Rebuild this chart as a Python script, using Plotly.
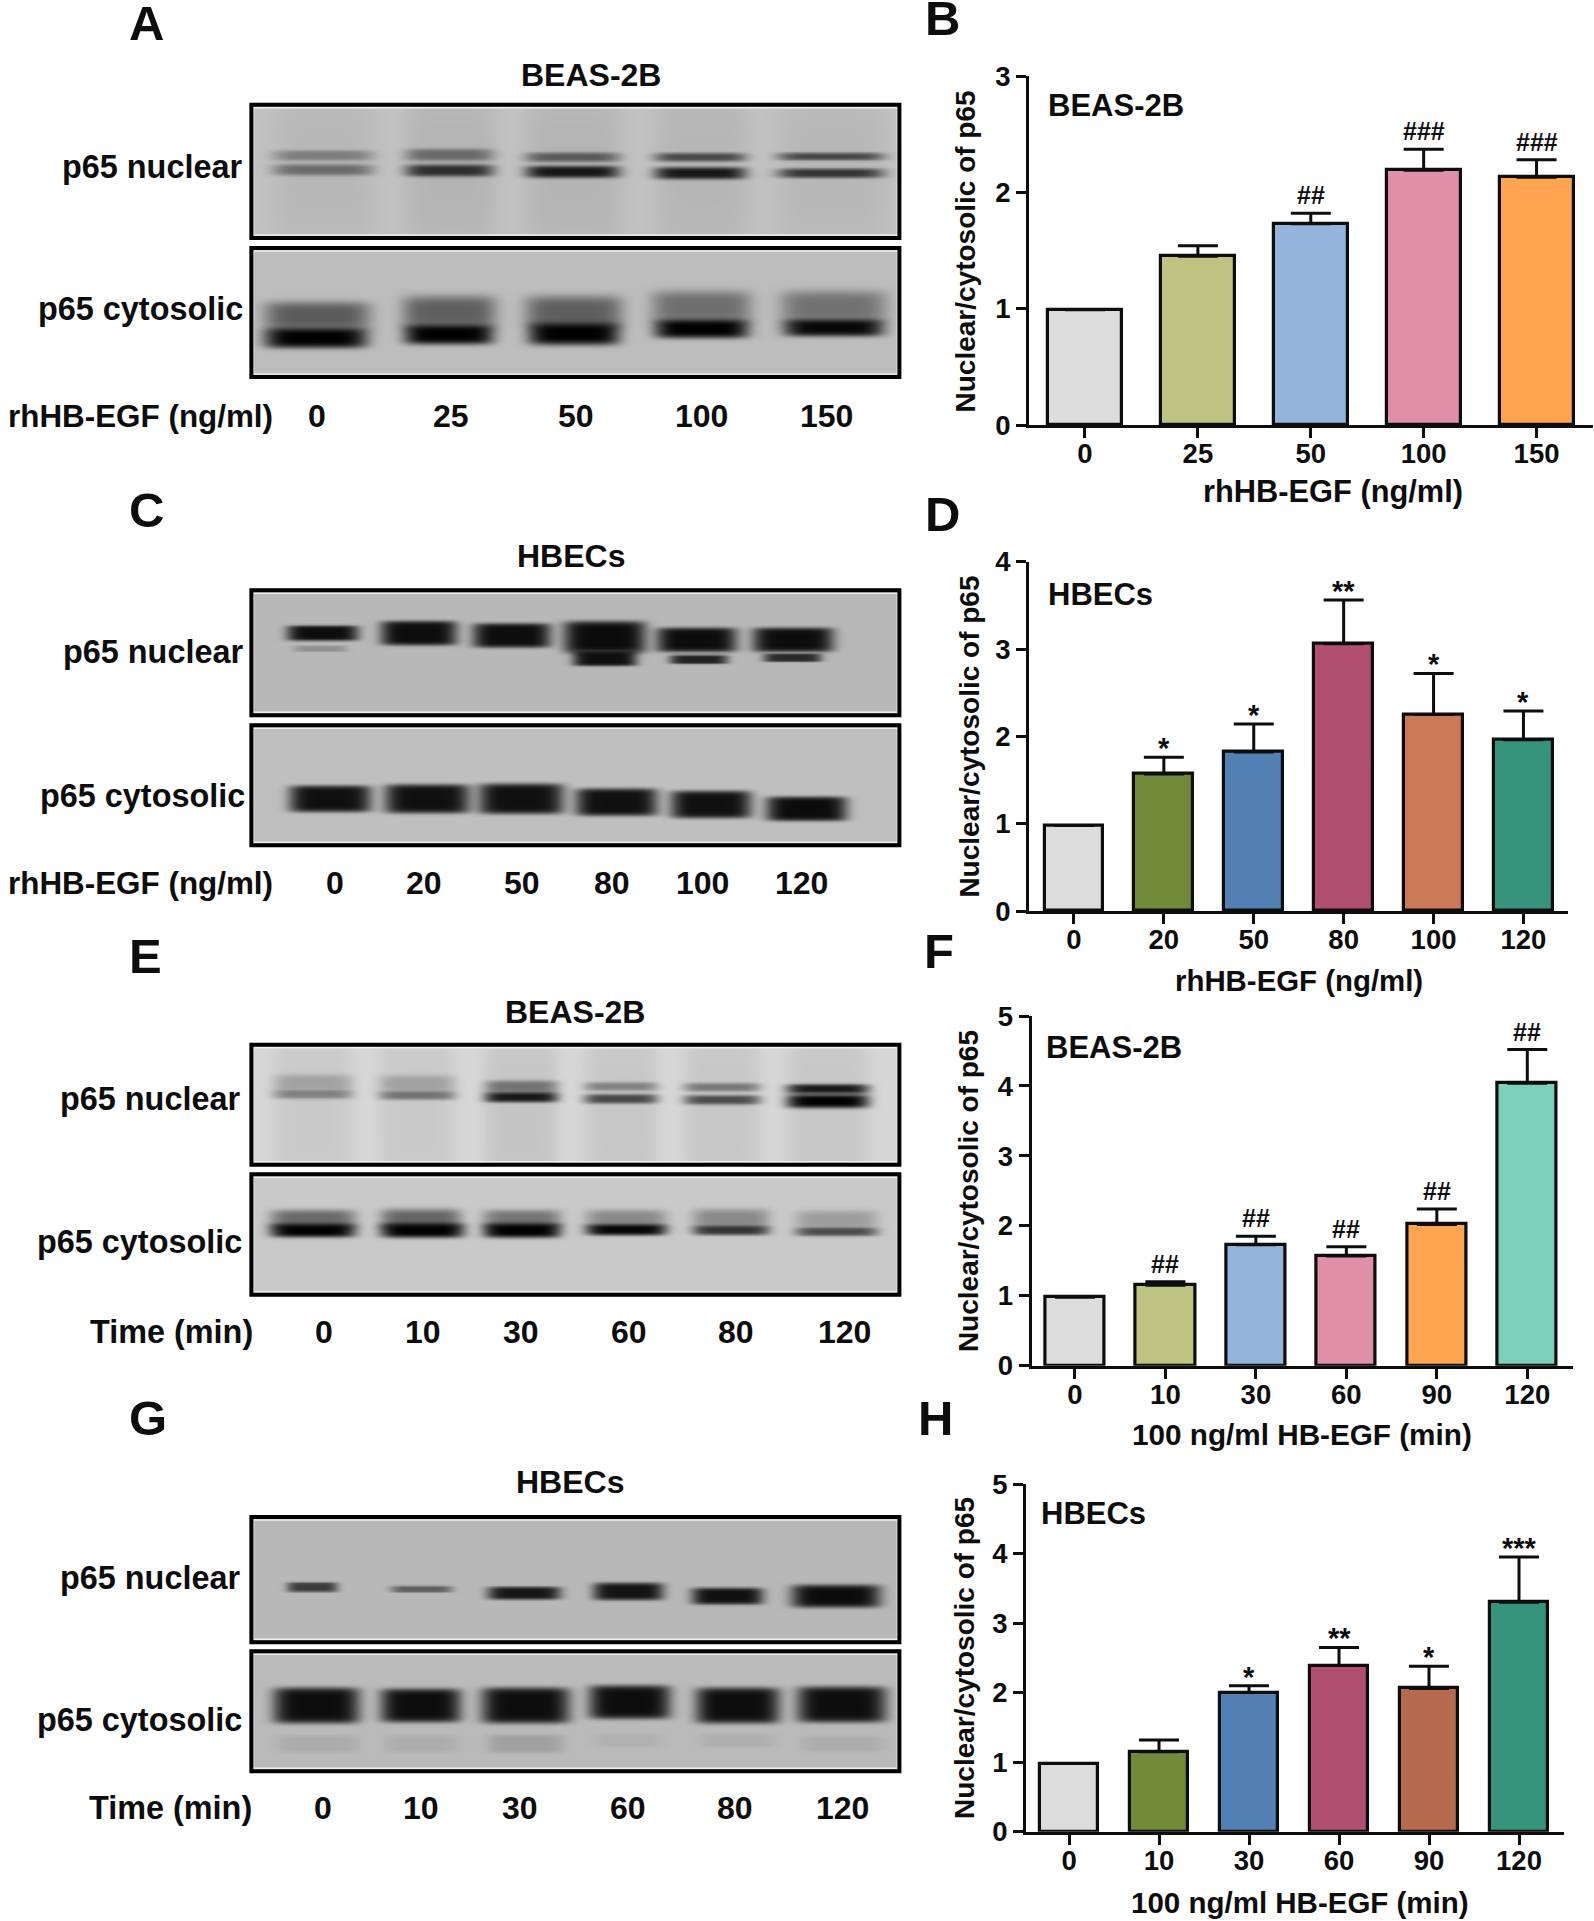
import numpy as np
import plotly.graph_objects as go

WIDTH = 1594
HEIGHT = 1921
FONT = "Liberation Sans"
INK = "#0d0d0d"

# bar panels
b_labels = ["0", "25", "50", "100", "150"]
b_values = [0.99, 1.45, 1.73, 2.19, 2.13]
b_errors = [0, 0.09, 0.09, 0.18, 0.15]
b_sig = ["", "", "##", "###", "###"]
b_colors = ["#DCDCDC", "#BEC382", "#94B4DC", "#E08FA8", "#FFA552"]

d_labels = ["0", "20", "50", "80", "100", "120"]
d_values = [0.98, 1.57, 1.82, 3.06, 2.25, 1.96]
d_errors = [0, 0.19, 0.32, 0.50, 0.47, 0.33]
d_sig = ["", "*", "*", "**", "*", "*"]
d_colors = ["#DCDCDC", "#718A3A", "#5380B4", "#B04F70", "#CC7A55", "#36947C"]

f_labels = ["0", "10", "30", "60", "90", "120"]
f_values = [0.98, 1.15, 1.73, 1.57, 2.02, 4.04]
f_errors = [0, 0.05, 0.12, 0.13, 0.22, 0.48]
f_sig = ["", "##", "##", "##", "##", "##"]
f_colors = ["#DCDCDC", "#BEC382", "#94B4DC", "#E08FA8", "#FFA552", "#7DD1BC"]

h_labels = ["0", "10", "30", "60", "90", "120"]
h_values = [0.98, 1.15, 2.00, 2.39, 2.06, 3.30]
h_errors = [0, 0.17, 0.10, 0.26, 0.32, 0.65]
h_sig = ["", "", "*", "**", "*", "***"]
h_colors = ["#DCDCDC", "#718A3A", "#5380B4", "#B04F70", "#B66A4B", "#36947C"]

# western blot bands: x start, x end, y centre, half height (crop pixels), strength
a_nuc_bands = [
    (465, 640, 510, 190, 0.05), (690, 845, 510, 190, 0.07), (895, 1060, 510, 190, 0.07),
    (1115, 1275, 510, 190, 0.06), (1325, 1510, 510, 190, 0.05),
    (465, 635, 465, 12, 0.32), (690, 840, 463, 14, 0.42), (895, 1055, 470, 11, 0.50),
    (1115, 1270, 470, 10, 0.60), (1325, 1505, 468, 9, 0.62),
    (465, 635, 508, 13, 0.42), (690, 840, 510, 14, 0.75), (895, 1055, 514, 14, 0.88),
    (1115, 1270, 518, 14, 0.88), (1325, 1505, 518, 11, 0.72),
]
a_cyt_bands = [
    (450, 630, 945, 32, 0.52), (685, 845, 935, 38, 0.50), (895, 1060, 935, 38, 0.50),
    (1110, 1280, 920, 38, 0.42), (1330, 1510, 920, 38, 0.40),
    (450, 625, 1012, 24, 1.0), (688, 840, 1002, 23, 1.0), (900, 1055, 1000, 26, 1.0),
    (1115, 1275, 985, 22, 1.0), (1335, 1505, 982, 20, 0.96),
]
c_nuc_bands = [
    (488, 610, 458, 20, 0.93), (500, 590, 505, 7, 0.22), (648, 778, 458, 32, 0.93),
    (805, 938, 465, 32, 0.93), (960, 1100, 470, 42, 0.94), (975, 1085, 535, 19, 0.92),
    (1118, 1255, 478, 32, 0.93), (1140, 1240, 537, 12, 0.82),
    (1282, 1420, 478, 32, 0.93), (1300, 1400, 532, 11, 0.78),
]
c_cyt_bands = [
    (492, 632, 955, 35, 0.92), (655, 800, 955, 38, 0.92), (815, 960, 955, 40, 0.92),
    (980, 1120, 965, 36, 0.92), (1142, 1280, 972, 36, 0.92), (1305, 1443, 985, 32, 0.94),
]
e_nuc_bands = [
    (465, 600, 530, 230, 0.06), (645, 775, 530, 230, 0.06), (825, 950, 530, 230, 0.08),
    (995, 1120, 530, 230, 0.07), (1165, 1295, 530, 230, 0.07), (1340, 1480, 530, 230, 0.07),
    (465, 600, 428, 20, 0.20), (645, 775, 430, 20, 0.20), (825, 950, 438, 14, 0.42),
    (995, 1120, 438, 10, 0.35), (1165, 1295, 440, 10, 0.40), (1340, 1480, 445, 11, 0.88),
    (465, 600, 462, 10, 0.35), (645, 775, 465, 10, 0.42), (825, 950, 470, 12, 0.88),
    (995, 1120, 475, 11, 0.65), (1165, 1295, 478, 11, 0.62), (1340, 1480, 482, 16, 1.0),
]
e_cyt_bands = [
    (460, 605, 836, 22, 0.48), (648, 785, 836, 24, 0.50), (823, 955, 836, 22, 0.42),
    (998, 1135, 836, 22, 0.32), (1180, 1310, 836, 24, 0.32), (1355, 1495, 838, 22, 0.22),
    (460, 605, 870, 16, 1.0), (648, 790, 870, 17, 1.0), (823, 955, 870, 17, 1.0),
    (998, 1135, 868, 13, 0.97), (1180, 1310, 870, 11, 0.72), (1355, 1495, 874, 10, 0.62),
]
g_nuc_bands = [
    (488, 575, 560, 13, 0.68), (665, 770, 566, 9, 0.48), (830, 955, 578, 17, 0.88),
    (1010, 1130, 573, 23, 0.90), (1178, 1300, 587, 22, 0.92), (1348, 1500, 587, 30, 0.94),
]
g_cyt_bands = [
    (465, 612, 915, 47, 0.93), (648, 785, 915, 44, 0.93), (820, 970, 915, 47, 0.93),
    (1003, 1142, 905, 44, 0.93), (1185, 1328, 915, 47, 0.93), (1358, 1510, 912, 47, 0.93),
    (470, 610, 1030, 22, 0.08), (655, 780, 1030, 22, 0.07), (830, 960, 1030, 24, 0.14),
    (1010, 1130, 1020, 18, 0.05), (1190, 1320, 1020, 18, 0.06), (1365, 1505, 1030, 20, 0.08),
]

blot_crop_scale_x = 1568 / 920


def px_x(x):
    return x / WIDTH


def px_y(y):
    return 1 - y / HEIGHT


def add_text(fig, x, y, text, size, anchor="center", angle=0):
    # the annotation box has a little padding, so left/right anchored text is nudged out
    nudge = {"left": -3, "right": 3, "center": 0}[anchor]
    fig.add_annotation(
        x=px_x(x + nudge), y=px_y(y - 1), xref="paper", yref="paper", text=text, showarrow=False,
        xanchor=anchor, yanchor="middle", textangle=angle,
        font=dict(family=FONT, size=size, color=INK, weight="bold"),
    )


def add_bar_panel(fig, n, labels, values, errors, sig, colors, box, x_range, ymax, title_x, title_y,
                  y_title_x, y_title_y, x_title, title_size):
    left, right, y0, ytop = box
    suffix = "" if n == 1 else str(n)
    xs = list(range(len(labels)))
    fig.add_trace(
        go.Bar(
            x=xs, y=values, xaxis=f"x{suffix}", yaxis=f"y{suffix}", width=0.655,
            marker=dict(color=colors, line=dict(color=INK, width=3.2)),
            error_y=dict(type="data", symmetric=False, array=errors, arrayminus=[0] * len(xs),
                         color=INK, thickness=3, width=20),
            showlegend=False,
        )
    )
    fig.update_layout({
        f"xaxis{suffix}": dict(
            domain=[px_x(left), px_x(right)], range=x_range, anchor=f"y{suffix}",
            tickmode="array", tickvals=xs, ticktext=labels, ticks="outside", ticklen=10, tickwidth=3,
            tickcolor=INK, showline=True, linecolor=INK, linewidth=3, showgrid=False, zeroline=False,
            automargin=False, ticklabelstandoff=-8,
            tickfont=dict(family=FONT, size=27.5, color=INK, weight="bold"),
        ),
        f"yaxis{suffix}": dict(
            domain=[px_y(y0), px_y(ytop)], range=[0, ymax], anchor=f"x{suffix}",
            tickmode="array", tickvals=list(range(ymax + 1)), ticks="outside", ticklen=10, tickwidth=3,
            tickcolor=INK, showline=True, linecolor=INK, linewidth=3, showgrid=False, zeroline=False,
            automargin=False, tickfont=dict(family=FONT, size=27.5, color=INK, weight="bold"),
        ),
    })
    for i, mark in enumerate(sig):
        if mark:
            fig.add_annotation(
                x=i, y=values[i] + errors[i], xref=f"x{suffix}", yref=f"y{suffix}", text=mark,
                showarrow=False, yanchor="bottom", yshift=2 if "#" in mark else -9,
                font=dict(family=FONT, size=25 if "#" in mark else 29, color=INK, weight="bold"),
            )
    add_text(fig, y_title_x, y_title_y, "Nuclear/cytosolic of p65", 28, angle=-90)
    add_text(fig, title_x, title_y, x_title, title_size)


def add_blot(fig, n, bands, box_y, crop_origin, background, grow=1.3, edge=4):
    left, right = 249.4, 901.4
    top, bottom = box_y
    xs = np.arange(left, right, 2.0)
    ys = np.arange(top, bottom, 2.0)
    xx, yy = np.meshgrid(xs, ys)
    shade = np.full(xx.shape, background)
    for x0, x1, yc, half_h, strength in bands:
        bx0, bx1 = x0 / blot_crop_scale_x, x1 / blot_crop_scale_x
        by = yc / 3 + crop_origin
        dx = (xx - (bx0 + bx1) / 2) / ((bx1 - bx0) / 2)
        dy = (yy - by) / (half_h * grow / 3)
        shade = shade * (1 - strength * np.exp(-(dx**6 + dy**edge)))
    fig.add_trace(
        go.Heatmap(
            x=xs, y=ys, z=shade, xaxis=f"x{n}", yaxis=f"y{n}", zmin=0, zmax=1, zsmooth="best",
            colorscale=[[0, "#000000"], [1, "#ffffff"]], showscale=False, hoverinfo="skip",
        )
    )
    fig.update_layout({
        f"xaxis{n}": dict(domain=[px_x(left), px_x(right)], range=[left, right], visible=False,
                          anchor=f"y{n}", automargin=False),
        f"yaxis{n}": dict(domain=[px_y(bottom), px_y(top)], range=[bottom, top], visible=False,
                          anchor=f"x{n}", automargin=False),
    })
    fig.add_shape(type="rect", xref="paper", yref="paper", x0=px_x(left + 4), x1=px_x(right - 4),
                  y0=px_y(bottom - 5), y1=px_y(top + 5), line=dict(color="#eeeeee", width=1.5))
    fig.add_shape(type="rect", xref="paper", yref="paper", x0=px_x(left + 2), x1=px_x(right - 2),
                  y0=px_y(bottom - 2), y1=px_y(top + 2), line=dict(color="#000000", width=4))


fig = go.Figure()

add_bar_panel(fig, 1, b_labels, b_values, b_errors, b_sig, b_colors, (1029, 1593, 425, 76), [-0.496, 4.5], 3,
              1332.7, 493, 965, 252.5, "rhHB-EGF (ng/ml)", 30.8)
add_bar_panel(fig, 2, d_labels, d_values, d_errors, d_sig, d_colors, (1029, 1568.4, 911, 561.7), [-0.5, 5.5], 4,
              1298.8, 981.7, 968.6, 738, "rhHB-EGF (ng/ml)", 29.4)
add_bar_panel(fig, 3, f_labels, f_values, f_errors, f_sig, f_colors, (1031.5, 1572.9, 1365.7, 1016),
              [-0.48, 5.504], 5, 1301.7, 1435, 968.6, 1192.5, "100 ng/ml HB-EGF (min)", 29.7)
add_bar_panel(fig, 4, h_labels, h_values, h_errors, h_sig, h_colors, (1026, 1564, 1831.7, 1484),
              [-0.478, 5.5], 5, 1300, 1903, 964, 1659, "100 ng/ml HB-EGF (min)", 29.5)

add_blot(fig, 5, a_nuc_bands, (102.7, 240), 0, 0.76)
add_blot(fig, 6, a_cyt_bands, (246, 379), 0, 0.74)
add_blot(fig, 7, c_nuc_bands, (588.3, 717.3), 480, 0.72, grow=1.15, edge=8)
add_blot(fig, 8, c_cyt_bands, (723.3, 847.3), 480, 0.75, grow=1.15, edge=8)
add_blot(fig, 9, e_nuc_bands, (1042.7, 1166.7), 940, 0.84)
add_blot(fig, 10, e_cyt_bands, (1172.3, 1296.7), 940, 0.79)
add_blot(fig, 11, g_nuc_bands, (1515, 1644.3), 1400, 0.72, grow=1.15, edge=6)
add_blot(fig, 12, g_cyt_bands, (1649.3, 1773.3), 1400, 0.73, grow=1.15, edge=8)

# panel letters
for letter, x, y in [("A", 146, 24), ("B", 942, 19), ("C", 146, 511), ("D", 942, 515),
                     ("E", 145, 957), ("F", 939, 952), ("G", 148, 1419), ("H", 935, 1419)]:
    add_text(fig, x, y, letter, 49)

# text inside the bar panels
add_text(fig, 1049, 106, "BEAS-2B", 31, anchor="left")
add_text(fig, 1049, 595, "HBECs", 31, anchor="left")
add_text(fig, 1047, 1048, "BEAS-2B", 31, anchor="left")
add_text(fig, 1041.7, 1514, "HBECs", 31, anchor="left")

# text around the blots
for x, y, text in [(590.7, 76, "BEAS-2B"), (571, 557, "HBECs"), (575, 1013, "BEAS-2B"), (570, 1483, "HBECs")]:
    add_text(fig, x, y, text, 32)
for x, y, text in [(240.6, 168, "p65 nuclear"), (242, 310, "p65 cytosolic"),
                   (241.8, 653, "p65 nuclear"), (243.5, 797, "p65 cytosolic"),
                   (239.4, 1100, "p65 nuclear"), (240.6, 1243, "p65 cytosolic"),
                   (239.4, 1579, "p65 nuclear"), (240.6, 1721, "p65 cytosolic"),
                   (252, 1333, "Time (min)"), (251, 1809, "Time (min)")]:
    add_text(fig, x, y, text, 32.4, anchor="right")
# these two start right at the left edge of the page
add_text(fig, 271.5, 417, "rhHB-EGF (ng/ml)", 31.4, anchor="right")
add_text(fig, 271.5, 884, "rhHB-EGF (ng/ml)", 31.4, anchor="right")
for y, positions, labels in [
    (417, [317, 451, 576, 701, 826], ["0", "25", "50", "100", "150"]),
    (884, [334.5, 423.7, 522, 612, 702, 801], ["0", "20", "50", "80", "100", "120"]),
    (1333, [324, 422.5, 521, 629, 736, 844], ["0", "10", "30", "60", "80", "120"]),
    (1809, [323, 421, 520, 628, 735, 843], ["0", "10", "30", "60", "80", "120"]),
]:
    for x, text in zip(positions, labels):
        add_text(fig, x, y, text, 32)

fig.update_layout(
    width=WIDTH, height=HEIGHT, margin=dict(l=0, r=0, t=0, b=0), autosize=False,
    paper_bgcolor="white", plot_bgcolor="rgba(0,0,0,0)", bargap=0,
)

fig.write_html("out.html", config={"displayModeBar": False},
               post_script="document.body.style.margin = '0';")
